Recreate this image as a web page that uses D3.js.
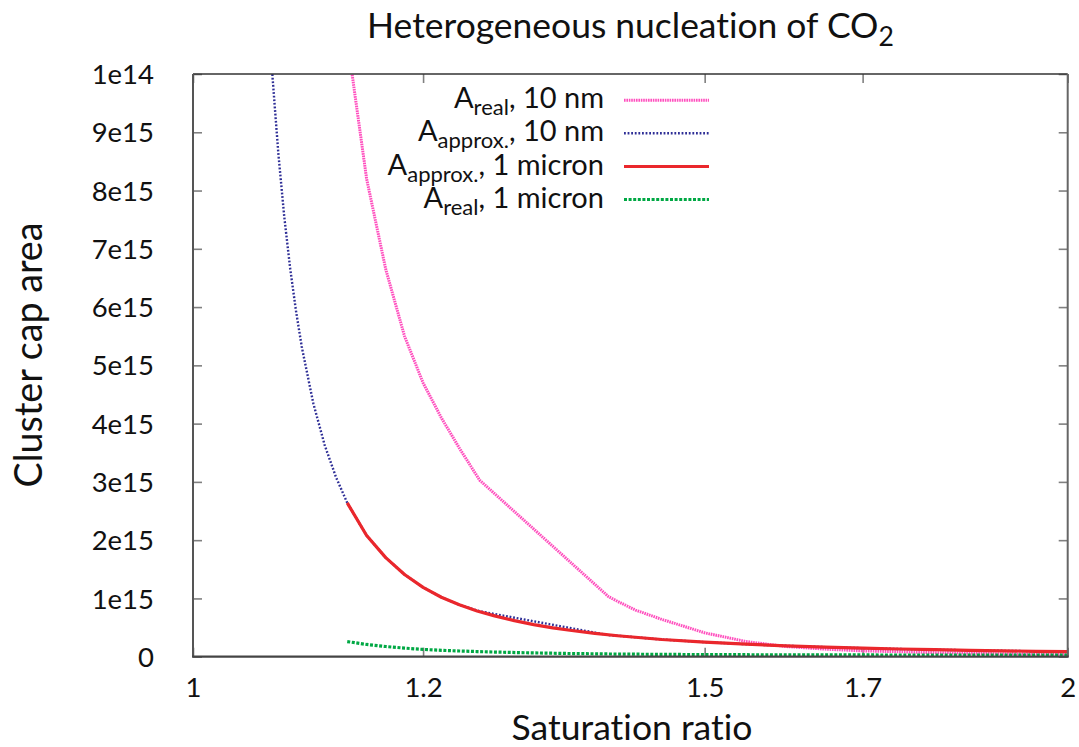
<!DOCTYPE html>
<html><head><meta charset="utf-8">
<script src="https://cdn.jsdelivr.net/npm/d3@7"></script>
<style>body{margin:0;background:#fff}svg{display:block}text{font-variant-ligatures:none;font-feature-settings:"liga" 0}</style>
</head><body>
<svg id="chart" width="1079" height="747"></svg>
<script>
// ---------- data ----------
const xTicks = [1, 1.2, 1.5, 1.7, 2];
const xTickLabels = ["1", "1.2", "1.5", "1.7", "2"];
const yTicks = [0, 1e15, 2e15, 3e15, 4e15, 5e15, 6e15, 7e15, 8e15, 9e15, 1e16];
const yTickLabels = ["0", "1e15", "2e15", "3e15", "4e15", "5e15", "6e15", "7e15", "8e15", "9e15", "1e14"];

// A_real, 10 nm
const sReal10 = [1.13, 1.1475, 1.165, 1.1825, 1.2, 1.2175, 1.235, 1.255, 1.39, 1.40, 1.42, 1.45, 1.5, 1.55, 1.6, 1.65, 1.7, 1.8, 1.9, 2.0];
const aReal10 = [10.6e15, 8.2e15, 6.65e15, 5.5e15, 4.7e15, 4.1e15, 3.58e15, 3.03e15, 1.03e15, 0.95e15, 0.80e15, 0.64e15, 0.41e15, 0.26e15, 0.175e15, 0.13e15, 0.10e15, 0.07e15, 0.05e15, 0.04e15];

// A_approx., 10 nm
const sApprox10 = [1.06, 1.065, 1.07, 1.075, 1.08, 1.085, 1.09, 1.10, 1.11, 1.12, 1.13, 1.1475, 1.165, 1.1825, 1.2, 1.2175, 1.235, 1.255, 1.39, 1.40, 1.45, 1.5, 1.55, 1.6, 1.65, 1.7, 1.75, 1.8, 1.85, 1.9, 1.95, 2.0];
const aApprox10 = [11.6e15, 9.96e15, 8.63e15, 7.55e15, 6.67e15, 5.94e15, 5.32e15, 4.35e15, 3.63e15, 3.08e15, 2.64e15, 2.08e15, 1.70e15, 1.41e15, 1.19e15, 1.02e15, 0.89e15, 0.78e15, 0.37e15, 0.36e15, 0.295e15, 0.25e15, 0.215e15, 0.187e15, 0.165e15, 0.146e15, 0.132e15, 0.12e15, 0.11e15, 0.101e15, 0.093e15, 0.086e15];

// A_approx., 1 micron
const sApprox1u = [1.13, 1.1475, 1.165, 1.1825, 1.2, 1.2175, 1.235, 1.2525, 1.27, 1.29, 1.31, 1.33, 1.35, 1.375, 1.40, 1.45, 1.5, 1.55, 1.6, 1.65, 1.7, 1.75, 1.8, 1.85, 1.9, 1.95, 2.0];
const aApprox1u = [2.64e15, 2.08e15, 1.70e15, 1.41e15, 1.19e15, 1.02e15, 0.89e15, 0.785e15, 0.70e15, 0.62e15, 0.55e15, 0.495e15, 0.45e15, 0.40e15, 0.36e15, 0.295e15, 0.25e15, 0.215e15, 0.187e15, 0.165e15, 0.146e15, 0.132e15, 0.12e15, 0.11e15, 0.101e15, 0.093e15, 0.086e15];

// A_real, 1 micron
const sReal1u = [1.13, 1.1475, 1.165, 1.1825, 1.2, 1.2175, 1.235, 1.2525, 1.27, 1.3, 1.35, 1.4, 1.45, 1.5, 1.6, 1.7, 1.8, 1.9, 2.0];
const aReal1u = [0.26e15, 0.21e15, 0.175e15, 0.147e15, 0.125e15, 0.11e15, 0.098e15, 0.088e15, 0.08e15, 0.068e15, 0.054e15, 0.045e15, 0.04e15, 0.036e15, 0.032e15, 0.03e15, 0.028e15, 0.027e15, 0.026e15];

const seriesNames = [
  [["A", false], ["real", true], [", 10 nm", false]],
  [["A", false], ["approx.", true], [", 10 nm", false]],
  [["A", false], ["approx.", true], [", 1 micron", false]],
  [["A", false], ["real", true], [", 1 micron", false]]
];

// ---------- chart ----------
const L = 193, R = 1067.7, T = 74, B = 656.7;
const FONT = "Lato, 'Open Sans', sans-serif";

const svg = d3.select("#chart");
const x = d3.scaleLog().domain([1, 2]).range([L, R]);
const y = d3.scaleLinear().domain([0, 1e16]).range([B, T]);

const styles = [
  {color: "#ff4fbe", width: 3, dash: "1.6,0.8"},
  {color: "#2e2e96", width: 2.4, dash: "1.8,1.8"},
  {color: "#ea272c", width: 3.2, dash: null},
  {color: "#00a844", width: 3.2, dash: "3,1.6"}
];
const series = [
  {s: sReal10, a: aReal10},
  {s: sApprox10, a: aApprox10},
  {s: sApprox1u, a: aApprox1u},
  {s: sReal1u, a: aReal1u}
];

svg.append("defs").append("clipPath").attr("id", "plotclip")
  .append("rect").attr("x", L).attr("y", T).attr("width", R - L).attr("height", B - T);

// axes ticks (inward), with mirrors
const tickColor = "#808080";
const gB = svg.append("g").attr("transform", `translate(0,${B})`)
  .call(d3.axisBottom(x).tickValues(xTicks).tickFormat((d, i) => xTickLabels[i]).tickSizeInner(-9).tickSizeOuter(0).tickPadding(0));
const gT = svg.append("g").attr("transform", `translate(0,${T})`)
  .call(d3.axisTop(x).tickValues(xTicks).tickFormat("").tickSizeInner(-9).tickSizeOuter(0));
const gL = svg.append("g").attr("transform", `translate(${L},0)`)
  .call(d3.axisLeft(y).tickValues(yTicks).tickFormat((d, i) => yTickLabels[i]).tickSizeInner(-9).tickSizeOuter(0).tickPadding(0));
const gR = svg.append("g").attr("transform", `translate(${R},0)`)
  .call(d3.axisRight(y).tickValues(yTicks).tickFormat("").tickSizeInner(-9).tickSizeOuter(0));
[gB, gT, gL, gR].forEach(g => {
  g.select(".domain").remove();
  g.selectAll(".tick line").attr("stroke", tickColor).attr("stroke-width", 1.6);
});
gB.selectAll(".tick text").attr("font-family", FONT).attr("font-size", 27.5).attr("fill", "#111")
  .attr("y", 697 - B).attr("dy", null);
gL.selectAll(".tick text").attr("font-family", FONT).attr("font-size", 27.5).attr("fill", "#111")
  .attr("x", 154 - L).attr("dy", "0.35em");

// series lines
const line = d3.line().x(d => x(d[0])).y(d => y(d[1]));
const plot = svg.append("g").attr("clip-path", "url(#plotclip)");
series.forEach((sr, i) => {
  const pts = sr.s.map((s, k) => [s, sr.a[k]]);
  const p = plot.append("path").datum(pts).attr("d", line)
    .attr("fill", "none").attr("stroke", styles[i].color).attr("stroke-width", styles[i].width)
    .attr("stroke-linejoin", "round");
  if (styles[i].dash) p.attr("stroke-dasharray", styles[i].dash);
});

// frame
svg.append("line").attr("x1", L).attr("x2", R).attr("y1", T).attr("y2", T).attr("stroke", "#333").attr("stroke-width", 1.4);
svg.append("line").attr("x1", L).attr("x2", L).attr("y1", T).attr("y2", B).attr("stroke", "#555").attr("stroke-width", 2);
svg.append("line").attr("x1", R).attr("x2", R).attr("y1", T).attr("y2", B).attr("stroke", "#666").attr("stroke-width", 2);
svg.append("line").attr("x1", L - 1).attr("x2", R + 1).attr("y1", B).attr("y2", B).attr("stroke", "#444").attr("stroke-width", 2.2);

// legend
const legRowY = [100.3, 133.3, 166.5, 199.5];
const legTextRight = 604, legX1 = 624, legX2 = 709;
seriesNames.forEach((parts, i) => {
  const ly = legRowY[i];
  const t = svg.append("text").attr("x", legTextRight).attr("y", ly + 8)
    .attr("text-anchor", "end").attr("font-family", FONT).attr("font-size", 29).attr("fill", "#111");
  let inSub = false;
  parts.forEach(([txt, sub]) => {
    const ts = t.append("tspan").text(txt);
    if (sub && !inSub) { ts.attr("dy", 7).attr("font-size", 22); inSub = true; }
    else if (!sub && inSub) { ts.attr("dy", -7); inSub = false; }
  });
  const ln = svg.append("line").attr("x1", legX1).attr("x2", legX2).attr("y1", ly).attr("y2", ly)
    .attr("stroke", styles[i].color).attr("stroke-width", styles[i].width);
  if (styles[i].dash) ln.attr("stroke-dasharray", styles[i].dash);
});

// fit helper
function fitWidth(sel, target) {
  const w = sel.node().getBBox().width;
  const fs = parseFloat(sel.attr("font-size"));
  sel.attr("font-size", fs * target / w);
}

// title
const title = svg.append("text").attr("x", 630.5).attr("y", 38).attr("text-anchor", "middle")
  .attr("font-family", FONT).attr("font-size", 32).attr("fill", "#111");
title.append("tspan").text("Heterogeneous nucleation of CO");
title.append("tspan").text("2").attr("font-size", "0.75em").attr("dy", 8);
fitWidth(title, 527);

// axis labels
const xl = svg.append("text").attr("x", 632).attr("y", 740).attr("text-anchor", "middle")
  .attr("font-family", FONT).attr("font-size", 35).attr("fill", "#111").text("Saturation ratio");
fitWidth(xl, 241);
const yl = svg.append("text").attr("transform", "translate(42,355) rotate(-90)").attr("text-anchor", "middle")
  .attr("font-family", FONT).attr("font-size", 36).attr("fill", "#111").text("Cluster cap area");
fitWidth(yl, 265);
</script>
</body></html>
